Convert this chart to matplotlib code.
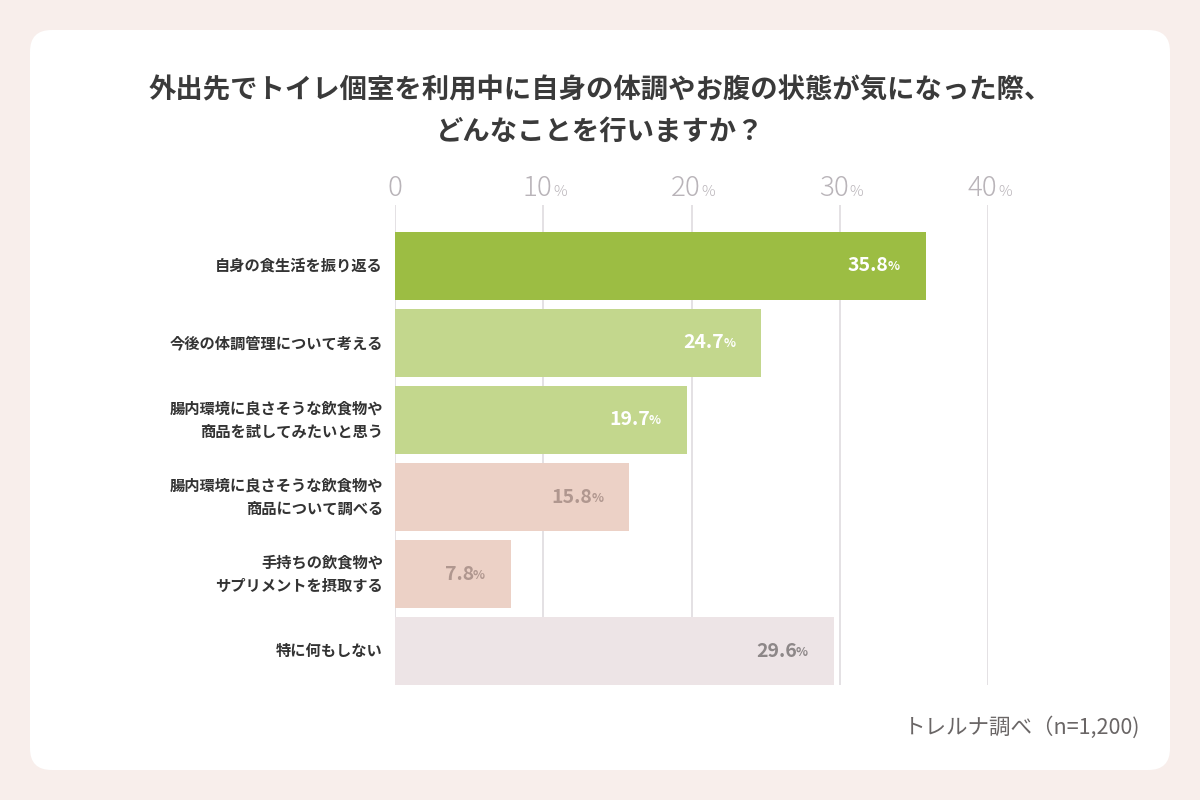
import matplotlib
matplotlib.use("Agg")
import matplotlib.pyplot as plt
from matplotlib.patches import FancyBboxPatch

plt.rcParams['font.family'] = ['Noto Sans CJK JP', 'DejaVu Sans']

title = "外出先でトイレ個室を利用中に自身の体調やお腹の状態が気になった際、\nどんなことを行いますか？"
categories = [
    "自身の食生活を振り返る",
    "今後の体調管理について考える",
    "腸内環境に良さそうな飲食物や\n商品を試してみたいと思う",
    "腸内環境に良さそうな飲食物や\n商品について調べる",
    "手持ちの飲食物や\nサプリメントを摂取する",
    "特に何もしない",
]
values = [35.8, 24.7, 19.7, 15.8, 7.8, 29.6]
ticks = [0, 10, 20, 30, 40]
source = "トレルナ調べ（n=1,200)"

bar_colors = ["#9cbd43", "#c3d78d", "#c3d78d", "#ecd1c6", "#ecd1c6", "#ede4e6"]
label_colors = ["#ffffff", "#ffffff", "#ffffff", "#b0978f", "#b0978f", "#8d8788"]

fig = plt.figure(figsize=(12, 8), dpi=100)
fig.patch.set_facecolor("#f8eeeb")

card = FancyBboxPatch((30 / 1200, 30 / 800), 1140 / 1200, 740 / 800,
                      boxstyle="round,pad=0,rounding_size=0.018",
                      transform=fig.transFigure, facecolor="white",
                      edgecolor="none", zorder=-5, mutation_aspect=1.5)
fig.patches.append(card)

fig.text(0.5, 1 - 111 / 800, title, ha="center", va="center",
         fontsize=19.7, fontweight="bold", color="#3a3a3a", linespacing=1.6)

ax = fig.add_axes([395 / 1200, 1 - 685 / 800, 593 / 1200, 480 / 800])
ax.set_zorder(2)
ax.set_facecolor("none")
ax.set_xlim(0, 40)
ax.set_ylim(5.44, -0.79)

for t in ticks:
    ax.axvline(t, color="#dcd8dc", linewidth=1.1, zorder=1)

y = list(range(len(values)))
ax.barh(y, values, height=0.88, color=bar_colors, zorder=2)

for i, v in enumerate(values):
    ax.annotate(f"{v:.1f}", (v, i), xytext=(-37, 0), textcoords="offset pixels",
                ha="right", va="center", fontsize=14, fontweight="bold",
                color=label_colors[i], zorder=3)
    ax.annotate("%", (v, i), xytext=(-26, -1), textcoords="offset pixels",
                ha="right", va="center", fontsize=9, fontweight="bold",
                color=label_colors[i], zorder=3)

for i, c in enumerate(categories):
    ax.annotate(c, (0, i), xytext=(-12, 0), textcoords="offset pixels",
                ha="right", va="center", fontsize=11, fontweight="bold",
                color="#333333", linespacing=1.55, annotation_clip=False)

ax.set_xticks([])
ax.set_yticks([])
for s in ax.spines.values():
    s.set_visible(False)

for t in ticks:
    if t == 0:
        ax.annotate(str(t), (t, -0.79), xytext=(0, 17),
                    textcoords="offset pixels", ha="center",
                    va="center", fontsize=20, fontweight="light", color="#b9b4b9",
                    annotation_clip=False)
    else:
        ax.annotate(str(t), (t, -0.79), xytext=(9, 17),
                    textcoords="offset pixels", ha="right",
                    va="center", fontsize=20, fontweight="light", color="#b9b4b9",
                    annotation_clip=False)
        ax.annotate("%", (t, -0.79), xytext=(10, 13),
                    textcoords="offset pixels", ha="left",
                    va="center", fontsize=11, fontweight="light", color="#b9b4b9",
                    annotation_clip=False)

fig.text(1140 / 1200, 1 - 727 / 800, source, ha="right", va="center",
         fontsize=15.5, color="#6a6666")

fig.savefig("out.png", dpi=100, facecolor=fig.get_facecolor())
